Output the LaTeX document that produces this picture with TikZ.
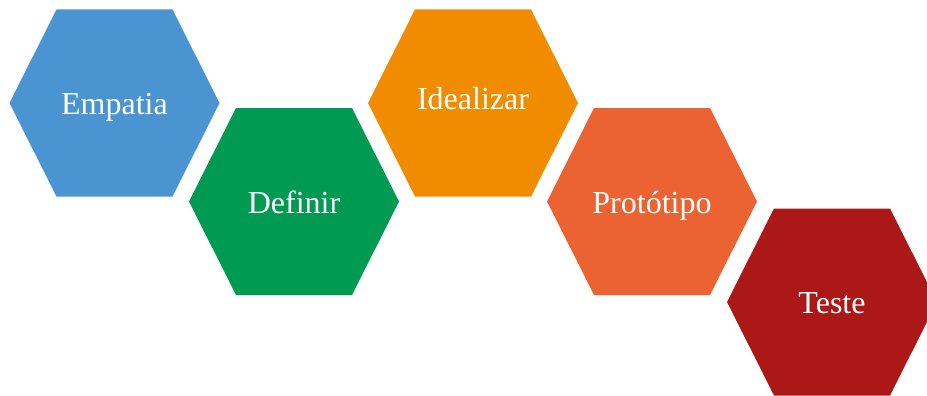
\documentclass[tikz,border=0pt]{standalone}
\usepackage{fontspec}
\setmainfont{Liberation Serif}
\usepackage{xcolor}
\usepackage{tikz}

\definecolor{hexblue}{HTML}{4A95D1}
\definecolor{hexgreen}{HTML}{009A52}
\definecolor{hexorange}{HTML}{F18C00}
\definecolor{hexcoral}{HTML}{EB6233}
\definecolor{hexred}{HTML}{AC1717}

\tikzset{
	hexlabel/.style={text=white, font=\fontsize{32}{38}\selectfont, inner sep=0pt, anchor=base},
	hexpath/.style={insert path={++(-105,0) -- ++(47,-93.5) -- ++(116,0) -- ++(47,93.5) -- ++(-47,93.5) -- ++(-116,0) -- cycle}}
}

\begin{document}
\begin{tikzpicture}[x=1pt, y=-1pt]
			\useasboundingbox (0,0) rectangle (927,396);
			\clip (0,0) rectangle (927,396);

			\fill[hexblue] (114.5,103) [hexpath];
			\fill[hexgreen] (294,201.5) [hexpath];
			\fill[hexorange] (473,103) [hexpath];
			\fill[hexcoral] (652,201.5) [hexpath];
			\fill[hexred] (832,302) [hexpath];

			\node[hexlabel] (empatia) at (114.5,114) {Empatia};
			\node[hexlabel] (definir) at (294,213) {Definir};
			\node[hexlabel] (idealizar) at (473,110) {Idealizar};
			\node[hexlabel] (prototipo) at (652,213) {Protótipo};
			\node[hexlabel] (teste) at (832,313) {Teste};
		\end{tikzpicture}
\end{document}
